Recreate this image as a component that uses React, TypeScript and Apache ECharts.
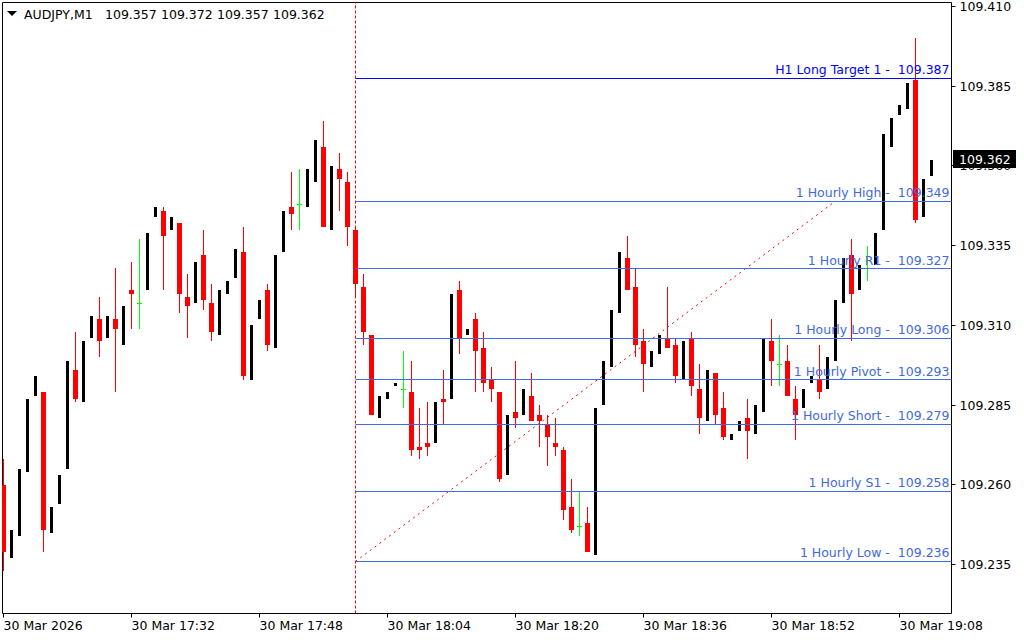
import React, { useEffect, useRef } from 'react';
import * as echarts from 'echarts';

// ---------- data ----------
const symbolName = 'AUDJPY,M1';
const headerQuotes = ['109.357', '109.372', '109.357', '109.362'];

const opens = [
  109.260, 109.237, 109.244, 109.264, 109.288, 109.289, 109.245, 109.254, 109.265, 109.296,
  109.286, 109.306, 109.312, 109.306, 109.312, 109.304, 109.321, 109.317, 109.321, 109.344,
  109.346, 109.340, 109.342, 109.319, 109.317, 109.332, 109.317, 109.307, 109.320, 109.325,
  109.333, 109.293, 109.312, 109.321, 109.303, 109.333, 109.347, 109.348, 109.347, 109.355,
  109.366, 109.340, 109.359, 109.355, 109.340, 109.322, 109.307, 109.281, 109.287, 109.291,
  109.290, 109.289, 109.272, 109.273, 109.273, 109.287, 109.287, 109.321, 109.307, 109.312,
  109.303, 109.293, 109.289, 109.263, 109.283, 109.282, 109.288, 109.282, 109.279, 109.273,
  109.271, 109.253, 109.247, 109.248, 109.238, 109.285, 109.297, 109.314, 109.331, 109.322,
  109.305, 109.297, 109.301, 109.306, 109.304, 109.293, 109.306, 109.290, 109.280, 109.295,
  109.284, 109.274, 109.277, 109.281, 109.276, 109.283, 109.305, 109.298, 109.299, 109.287,
  109.284, 109.292, 109.293, 109.290, 109.299, 109.317, 109.332, 109.321, 109.328, 109.329,
  109.340, 109.366, 109.376, 109.378, 109.387, 109.344, 109.357,
];
const highs = [
  109.268, 109.246, 109.265, 109.287, 109.294, 109.289, 109.253, 109.263, 109.299, 109.308,
  109.305, 109.313, 109.319, 109.313, 109.328, 109.316, 109.330, 109.337, 109.339, 109.347,
  109.347, 109.344, 109.342, 109.326, 109.330, 109.340, 109.323, 109.321, 109.324, 109.334,
  109.341, 109.310, 109.318, 109.323, 109.332, 109.346, 109.358, 109.359, 109.359, 109.368,
  109.374, 109.360, 109.364, 109.358, 109.341, 109.326, 109.307, 109.288, 109.289, 109.292,
  109.302, 109.299, 109.284, 109.286, 109.286, 109.296, 109.320, 109.324, 109.309, 109.314,
  109.308, 109.297, 109.289, 109.282, 109.299, 109.290, 109.295, 109.285, 109.282, 109.281,
  109.272, 109.262, 109.258, 109.253, 109.284, 109.299, 109.315, 109.333, 109.338, 109.328,
  109.309, 109.302, 109.307, 109.322, 109.306, 109.305, 109.308, 109.298, 109.296, 109.295,
  109.289, 109.276, 109.280, 109.287, 109.285, 109.306, 109.312, 109.307, 109.304, 109.291,
  109.290, 109.294, 109.304, 109.300, 109.318, 109.331, 109.337, 109.329, 109.335, 109.339,
  109.370, 109.375, 109.379, 109.386, 109.400, 109.356, 109.362,
];
const lows = [
  109.233, 109.237, 109.244, 109.264, 109.288, 109.239, 109.245, 109.254, 109.265, 109.286,
  109.286, 109.306, 109.300, 109.306, 109.289, 109.304, 109.309, 109.309, 109.321, 109.344,
  109.321, 109.340, 109.314, 109.306, 109.317, 109.315, 109.305, 109.307, 109.320, 109.325,
  109.293, 109.293, 109.312, 109.302, 109.303, 109.333, 109.340, 109.340, 109.347, 109.355,
  109.341, 109.340, 109.346, 109.335, 109.319, 109.304, 109.282, 109.281, 109.287, 109.291,
  109.284, 109.269, 109.268, 109.269, 109.273, 109.279, 109.287, 109.301, 109.307, 109.289,
  109.289, 109.286, 109.261, 109.263, 109.278, 109.282, 109.280, 109.272, 109.266, 109.269,
  109.249, 109.245, 109.244, 109.239, 109.238, 109.285, 109.297, 109.314, 109.321, 109.300,
  109.289, 109.297, 109.301, 109.303, 109.292, 109.293, 109.288, 109.276, 109.280, 109.279,
  109.274, 109.274, 109.277, 109.268, 109.276, 109.283, 109.291, 109.291, 109.288, 109.274,
  109.284, 109.292, 109.287, 109.290, 109.299, 109.317, 109.305, 109.321, 109.324, 109.329,
  109.340, 109.366, 109.376, 109.378, 109.342, 109.344, 109.357,
];
const closes = [
  109.239, 109.246, 109.265, 109.287, 109.294, 109.246, 109.253, 109.263, 109.299, 109.287,
  109.305, 109.313, 109.305, 109.313, 109.309, 109.316, 109.320, 109.317, 109.339, 109.347,
  109.338, 109.344, 109.320, 109.316, 109.330, 109.318, 109.308, 109.321, 109.324, 109.334,
  109.294, 109.310, 109.318, 109.304, 109.332, 109.346, 109.345, 109.348, 109.359, 109.368,
  109.341, 109.360, 109.356, 109.341, 109.323, 109.308, 109.282, 109.288, 109.289, 109.292,
  109.290, 109.271, 109.271, 109.272, 109.286, 109.286, 109.320, 109.306, 109.309, 109.302,
  109.292, 109.290, 109.262, 109.282, 109.281, 109.290, 109.280, 109.280, 109.275, 109.272,
  109.252, 109.246, 109.247, 109.239, 109.284, 109.299, 109.315, 109.333, 109.321, 109.304,
  109.298, 109.302, 109.307, 109.303, 109.294, 109.305, 109.291, 109.281, 109.296, 109.282,
  109.275, 109.276, 109.280, 109.277, 109.285, 109.306, 109.299, 109.298, 109.288, 109.282,
  109.290, 109.294, 109.289, 109.300, 109.318, 109.331, 109.320, 109.329, 109.328, 109.339,
  109.370, 109.375, 109.379, 109.386, 109.343, 109.356, 109.362,
];

// x-axis ticks: bar index -> label (M1 bars, first bar 30 Mar 17:16)
const timeTickIndices = [0, 16, 32, 48, 64, 80, 96, 112];
const timeTickLabels = [
  '30 Mar 2026', '30 Mar 17:32', '30 Mar 17:48', '30 Mar 18:04',
  '30 Mar 18:20', '30 Mar 18:36', '30 Mar 18:52', '30 Mar 19:08',
];
const priceTicks = [109.235, 109.26, 109.285, 109.31, 109.335, 109.36, 109.385, 109.41];

const levelNames = [
  'H1 Long Target 1', '1 Hourly High', '1 Hourly R1', '1 Hourly Long',
  '1 Hourly Pivot', '1 Hourly Short', '1 Hourly S1', '1 Hourly Low',
];
const levelValues = [109.3876, 109.349, 109.3278, 109.306, 109.293, 109.279, 109.258, 109.236];

const separatorIndex = 44; // 18:00 period separator
const trendStart = [44, 109.236];
const trendEnd = [104, 109.349];
const currentPrice = 109.362;

// ---------- chart ----------
const X_MIN = -0.125;
const X_MAX = 118.5;
const Y_MAX = 109.41125;
const Y_MIN = 109.2196875;
const FONT = 'DejaVu Sans';
const FS = 12.5;

function trunc3(v: number) {
  return (Math.floor(v * 1000 + 1e-6) / 1000).toFixed(3);
}

const headerGraphics: any[] = [
  { type: 'polygon', z: 100, shape: { points: [[7, 11], [17, 11], [12, 16]] }, style: { fill: '#000' } },
  { type: 'text', z: 100, x: 24, y: 14, style: { text: symbolName, fill: '#000', fontSize: FS, fontFamily: FONT, verticalAlign: 'middle', textVerticalAlign: 'middle' } },
  ...headerQuotes.map((q, k) => ({
    type: 'text', z: 100, x: 105 + k * 56, y: 14,
    style: { text: q, fill: '#000', fontSize: FS, fontFamily: FONT, verticalAlign: 'middle', textVerticalAlign: 'middle' },
  })),
];

function buildOption() {
  const candleData = opens.map((o, i) => [i, o, closes[i], lows[i], highs[i]]);

  const levelLines = levelValues.map((v, k) => {
    const color = k === 0 ? '#0000ff' : '#4169e1';
    return [
      {
        coord: [separatorIndex, v],
        lineStyle: { color, width: 1, type: 'solid' },
        label: {
          show: true,
          position: 'insideEndTop',
          formatter: levelNames[k] + ' -  ' + trunc3(v),
          color,
          fontSize: FS,
          fontFamily: FONT,
          distance: [2, 2],
        },
      },
      { coord: [X_MAX, v] },
    ];
  });

  return {
    animation: false,
    backgroundColor: '#ffffff',
    textStyle: { fontFamily: FONT },
    grid: { left: 2.5, right: 72.5, top: 0.5, bottom: 26.5, show: true, borderColor: '#000', borderWidth: 1, backgroundColor: 'transparent' },
    xAxis: {
      type: 'value',
      min: X_MIN,
      max: X_MAX,
      axisLine: { show: false },
      splitLine: { show: false },
      axisTick: { show: true, length: 4, customValues: timeTickIndices, lineStyle: { color: '#000' } },
      axisLabel: {
        show: true,
        customValues: timeTickIndices,
        formatter: (v: number) => {
          const k = timeTickIndices.indexOf(Math.round(v));
          return k >= 0 ? timeTickLabels[k] : '';
        },
        align: 'left',
        margin: 5,
        color: '#000',
        fontSize: FS,
        fontFamily: FONT,
      },
    },
    yAxis: {
      type: 'value',
      position: 'right',
      min: Y_MIN,
      max: Y_MAX,
      axisLine: { show: false },
      splitLine: { show: false },
      axisTick: { show: false },
      axisLabel: {
        show: true,
        customValues: priceTicks,
        formatter: (v: number) => v.toFixed(3),
        margin: 8,
        color: '#000',
        fontSize: FS,
        fontFamily: FONT,
      },
    },
    graphic: headerGraphics,
    series: [
      {
        type: 'line',
        data: [],
        z: 1,
        markLine: {
          silent: true,
          animation: false,
          symbol: ['none', 'none'],
          data: [
            { xAxis: separatorIndex, lineStyle: { color: '#ff0000', width: 1, type: [3, 2] }, label: { show: false } },
            [
              { coord: trendStart, lineStyle: { color: '#ff0000', width: 1, type: [2, 4] }, label: { show: false } },
              { coord: trendEnd },
            ],
            ...levelLines,
          ],
        },
      },
      {
        type: 'custom',
        z: 3,
        clip: true,
        data: candleData,
        encode: { x: 0, y: [1, 2, 3, 4] },
        renderItem: (params: any, api: any) => {
          const i = api.value(0);
          const o = api.value(1);
          const c = api.value(2);
          const l = api.value(3);
          const h = api.value(4);
          const pO = api.coord([i, o]);
          const pC = api.coord([i, c]);
          const pL = api.coord([i, l]);
          const pH = api.coord([i, h]);
          const cx = Math.floor(pO[0] + 1e-6) + 0.5;
          const yO = Math.round(pO[1]);
          const yC = Math.round(pC[1]);
          const yL = Math.round(pL[1]);
          const yH = Math.round(pH[1]);
          const color = c > o ? '#000000' : c < o ? '#ff0000' : '#00ff00';
          const children: any[] = [
            { type: 'rect', shape: { x: cx - 0.5, y: yH, width: 1, height: Math.max(1, yL - yH) }, style: { fill: color } },
          ];
          if (c === o) {
            children.push({ type: 'rect', shape: { x: cx - 2.5, y: yO, width: 5, height: 1 }, style: { fill: color } });
          } else {
            const half = c > o ? 1.5 : 2.5;
            const top = Math.min(yO, yC);
            const bot = Math.max(yO, yC);
            children.push({ type: 'rect', shape: { x: cx - half, y: top, width: half * 2, height: Math.max(1, bot - top) }, style: { fill: color } });
          }
          return { type: 'group', children };
        },
      },
    ],
  };
}

export default function App() {
  const ref = useRef<HTMLDivElement>(null);
  useEffect(() => {
    if (!ref.current) return;
    const chart = echarts.init(ref.current, null, { renderer: 'svg' });
    chart.setOption(buildOption() as any);

    // price-axis ticks and current-price box, placed through the chart's own scales
    const xRight = chart.convertToPixel({ xAxisIndex: 0 }, X_MAX) as number;
    const tickEls = priceTicks.map((v) => {
      const y = Math.round(chart.convertToPixel({ yAxisIndex: 0 }, v) as number - 0.5) + 0.5;
      return {
        type: 'line', z: 100,
        shape: { x1: xRight, y1: y, x2: xRight + 4, y2: y },
        style: { stroke: '#000', lineWidth: 1 },
      };
    });
    const py = chart.convertToPixel({ yAxisIndex: 0 }, currentPrice) as number;
    const boxTop = Math.round(py) - 10;
    const boxEls = [
      { type: 'rect', z: 110, shape: { x: xRight + 1.5, y: boxTop, width: 63, height: 18 }, style: { fill: '#000' } },
      {
        type: 'text', z: 111, x: xRight + 7.5, y: boxTop + 9.5,
        style: { text: currentPrice.toFixed(3), fill: '#fff', fontSize: FS, fontFamily: FONT, verticalAlign: 'middle', textVerticalAlign: 'middle' },
      },
    ];
    chart.setOption({ graphic: [...headerGraphics, ...tickEls, ...boxEls] } as any);
    return () => chart.dispose();
  }, []);
  return (
    <div
      ref={ref}
      style={{ position: 'fixed', left: 0, top: 0, width: 1024, height: 640, background: '#ffffff' }}
    />
  );
}
